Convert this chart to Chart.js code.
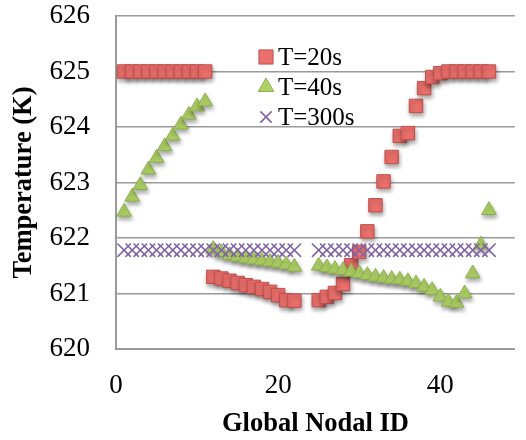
<!DOCTYPE html>
<html>
<head>
<meta charset="utf-8">
<script src="https://cdn.jsdelivr.net/npm/chart.js@4.4.1/dist/chart.umd.min.js"></script>
<style>
  html, body { margin: 0; padding: 0; background: #fff; overflow: hidden; }
  #wrap { width: 526px; height: 440px; }
</style>
</head>
<body>
<div id="wrap"><canvas id="tempChart" width="526" height="440"></canvas></div>
<script>
// node numbers (23 and 24 have no result)
const nodalIds = [
  1, 2, 3, 4, 5, 6, 7, 8, 9, 10, 11,
  12, 13, 14, 15, 16, 17, 18, 19, 20, 21, 22,
  25, 26, 27, 28, 29, 30, 31, 32, 33, 34, 35,
  36, 37, 38, 39, 40, 41, 42, 43, 44, 45, 46
];

const temp20s = [
  625.00, 625.00, 625.00, 625.00, 625.00, 625.00, 625.00, 625.00, 625.00, 625.00, 625.00,
  621.30, 621.27, 621.23, 621.19, 621.15, 621.12, 621.08, 621.03, 620.97, 620.88, 620.87,
  620.88, 620.94, 621.01, 621.17, 621.51, 621.75, 622.12, 622.59, 623.02, 623.46, 623.84,
  623.89, 624.38, 624.70, 624.90, 624.97, 625.00, 625.00, 625.00, 625.00, 625.00, 625.00
];

const temp40s = [
  622.47, 622.74, 622.95, 623.23, 623.44, 623.65, 623.84, 624.04, 624.22, 624.37, 624.46,
  621.80, 621.74, 621.69, 621.66, 621.63, 621.61, 621.59, 621.57, 621.55, 621.52, 621.48,
  621.50, 621.47, 621.44, 621.42, 621.39, 621.36, 621.33, 621.30, 621.28, 621.26, 621.25,
  621.22, 621.18, 621.12, 621.06, 620.94, 620.85, 620.83, 621.00, 621.36, 621.88, 622.50
];

const temp300s = [
  621.78, 621.78, 621.78, 621.78, 621.78, 621.78, 621.78, 621.78, 621.78, 621.78, 621.78,
  621.78, 621.78, 621.78, 621.78, 621.78, 621.78, 621.78, 621.78, 621.78, 621.78, 621.78,
  621.78, 621.78, 621.78, 621.78, 621.78, 621.78, 621.78, 621.78, 621.78, 621.78, 621.78,
  621.78, 621.78, 621.78, 621.78, 621.78, 621.78, 621.78, 621.78, 621.78, 621.78, 621.78
];

const seriesNames = ['T=20s', 'T=40s', 'T=300s'];
const xTickValues = [0, 20, 40];

const serif = "'Liberation Serif', 'DejaVu Serif', serif";
const gridGray = '#9a9a9a';

function toPoints(values) {
  return nodalIds.map((id, i) => ({ x: id, y: values[i] }));
}

// soft drop shadow under the filled markers
const markerShadow = {
  id: 'markerShadow',
  beforeDatasetDraw(chart, args) {
    const ctx = chart.ctx;
    ctx.save();
    if (args.meta._dataset.shadow) {
      ctx.shadowColor = 'rgba(0,0,0,0.35)';
      ctx.shadowBlur = 4;
      ctx.shadowOffsetX = 1;
      ctx.shadowOffsetY = 3;
    }
  },
  afterDatasetDraw(chart) {
    chart.ctx.restore();
  }
};

// legend drawn inside the plot area
const innerLegend = {
  id: 'innerLegend',
  afterDraw(chart) {
    const ctx = chart.ctx;
    const area = chart.chartArea;
    const mx = area.left + 150;
    const top = area.top + 41;
    const sizes = [10, 9, 8];
    chart.data.datasets.forEach((ds, i) => {
      const y = top + i * 30;
      ctx.save();
      ctx.fillStyle = ds.pointBackgroundColor;
      ctx.strokeStyle = ds.pointBorderColor;
      ctx.lineWidth = ds.pointBorderWidth;
      Chart.helpers.drawPoint(ctx, {
        pointStyle: ds.pointStyle,
        radius: sizes[i],
        rotation: 0,
        borderWidth: ds.pointBorderWidth
      }, mx, y);
      ctx.fillStyle = '#000';
      ctx.font = '25px ' + serif;
      ctx.textBaseline = 'middle';
      ctx.textAlign = 'left';
      ctx.fillText(ds.label, mx + 12, y + 1);
      ctx.restore();
    });
  }
};

const ctx = document.getElementById('tempChart').getContext('2d');

const tempChart = new Chart(ctx, {
  type: 'scatter',
  data: {
    datasets: [
      {
        label: seriesNames[0],
        data: toPoints(temp20s),
        pointStyle: 'rect',
        pointRadius: 9.5,
        pointBackgroundColor: '#EA6F6B',
        pointBorderColor: '#C0504D',
        pointBorderWidth: 1,
        shadow: true,
        order: 3
      },
      {
        label: seriesNames[1],
        data: toPoints(temp40s),
        pointStyle: 'triangle',
        pointRadius: 8.5,
        pointBackgroundColor: '#AFD166',
        pointBorderColor: '#8DB04E',
        pointBorderWidth: 1,
        shadow: true,
        order: 2
      },
      {
        label: seriesNames[2],
        data: toPoints(temp300s),
        pointStyle: 'crossRot',
        pointRadius: 9.5,
        pointBackgroundColor: '#8064A2',
        pointBorderColor: '#8064A2',
        pointBorderWidth: 1.6,
        shadow: false,
        order: 1
      }
    ]
  },
  options: {
    responsive: false,
    animation: false,
    events: [],
    layout: { padding: { top: 16, left: 0, right: 0, bottom: 0 } },
    plugins: {
      legend: { display: false },
      tooltip: { enabled: false }
    },
    scales: {
      x: {
        type: 'linear',
        min: 0,
        max: 49.2,
        afterBuildTicks: (scale) => {
          scale.ticks = xTickValues.map(v => ({ value: v }));
        },
        afterFit: (scale) => {
          scale.height = 91;
          scale.paddingLeft = 0;
          scale.paddingRight = 0;
        },
        grid: { display: false, drawTicks: false },
        border: { display: true, color: gridGray, width: 2 },
        ticks: {
          color: '#000',
          padding: 21,
          font: { family: serif, size: 27 }
        },
        title: {
          display: true,
          text: 'Global Nodal ID',
          color: '#000',
          padding: { top: 0, bottom: 0 },
          font: { family: serif, size: 26.5, weight: 'bold' }
        }
      },
      y: {
        min: 620,
        max: 626,
        afterFit: (scale) => {
          scale.width = 116;
          scale.paddingTop = 0;
          scale.paddingBottom = 0;
        },
        grid: { color: gridGray, lineWidth: 1.5, drawTicks: false },
        border: { display: true, color: gridGray, width: 2 },
        ticks: {
          stepSize: 1,
          color: '#000',
          padding: 26,
          font: { family: serif, size: 27 }
        },
        title: {
          display: true,
          text: 'Temperature (K)',
          color: '#000',
          padding: { top: 8, bottom: 0 },
          font: { family: serif, size: 26.5, weight: 'bold' }
        }
      }
    }
  },
  plugins: [markerShadow, innerLegend]
});
</script>
</body>
</html>
